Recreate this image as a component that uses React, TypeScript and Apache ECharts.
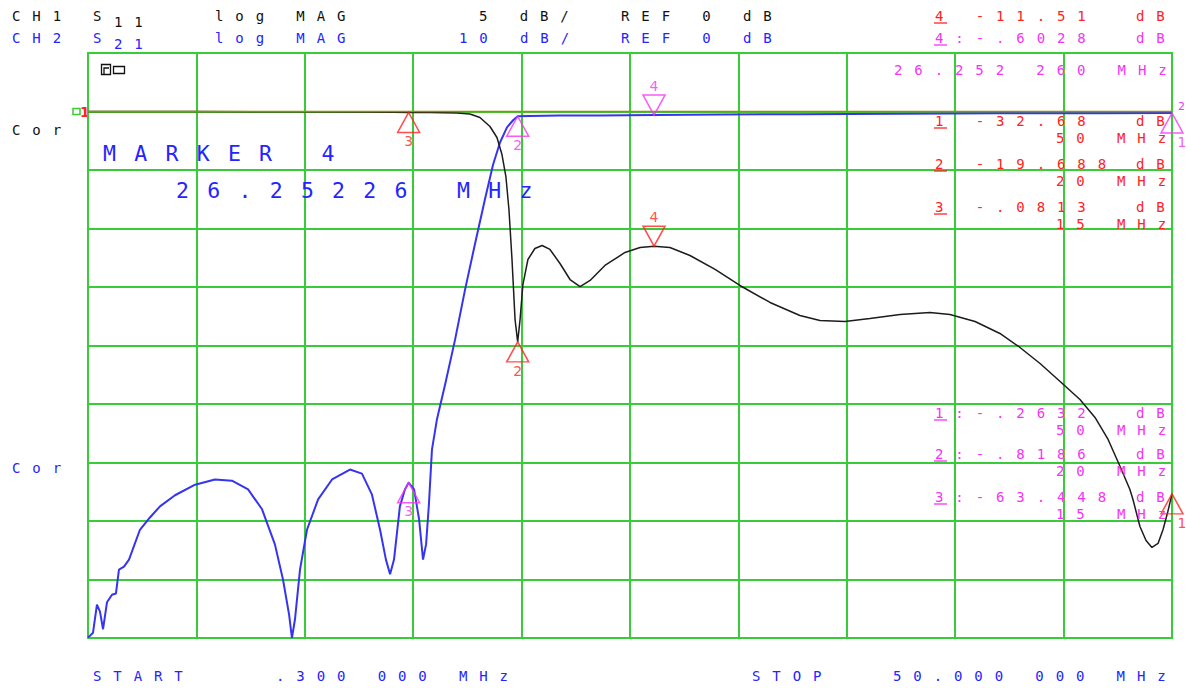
import React, { useEffect, useRef } from "react";
import * as echarts from "echarts";

// ---------- instrument settings ----------
const START_MHZ = 0.3;
const STOP_MHZ = 50;
const REF_DB = 0;
const S11_PER_DIV = 5;
const S21_PER_DIV = 10;

// ---------- trace data ----------
const s11Freq = [
  0.3, 5.0, 10.0, 13.0, 14.3, 15.0, 16.0, 17.22, 17.81, 18.27, 18.73, 19.05, 19.28, 19.46, 19.6, 19.74,
  19.88, 20.0, 20.11, 20.24, 20.47, 20.79, 21.12, 21.48, 21.94, 22.4, 22.86, 23.32, 24.0, 24.92, 25.61,
  26.25, 26.98, 27.9, 29.05, 30.19, 31.57, 32.94, 33.86, 35.0, 36.15, 37.53, 38.9, 39.82, 40.97, 42.11,
  43.03, 43.95, 44.87, 45.78, 46.47, 47.07, 47.62, 48.07, 48.21, 48.53, 48.81, 49.08, 49.36, 49.59,
  49.81, 50.0,
];
const s11Db = [
  0.0, -0.01, -0.02, -0.04, -0.07, -0.0813, -0.09, -0.12, -0.21, -0.51, -1.28, -2.22, -3.68, -5.56,
  -8.38, -12.65, -17.78, -19.688, -17.78, -14.79, -12.65, -11.71, -11.45, -11.79, -12.99, -14.36,
  -14.96, -14.44, -13.16, -12.05, -11.62, -11.51, -11.62, -12.31, -13.5, -14.87, -16.32, -17.44,
  -17.86, -17.95, -17.69, -17.35, -17.18, -17.35, -17.95, -18.97, -20.17, -21.54, -23.08, -24.62,
  -26.15, -28.03, -30.34, -32.31, -33.16, -35.47, -36.67, -37.26, -36.92, -35.73, -34.19, -32.68,
];
const s21Freq = [
  0.3, 0.39, 0.53, 0.71, 0.85, 0.99, 1.17, 1.4, 1.58, 1.72, 1.95, 2.18, 2.68, 3.14, 3.6, 4.29, 5.21,
  6.12, 6.9, 7.64, 8.28, 8.87, 9.24, 9.52, 9.65, 9.79, 10.02, 10.34, 10.85, 11.49, 12.31, 12.86, 13.32,
  13.69, 13.96, 14.15, 14.33, 14.6, 14.83, 15.0, 15.25, 15.48, 15.66, 15.8, 15.93, 16.07, 16.3, 16.67,
  17.13, 17.59, 18.04, 18.5, 18.87, 19.19, 19.51, 19.79, 20.0, 20.56, 21.9, 23.8, 26.25, 29.3, 32.9,
  37.5, 42.1, 46.7, 50.0,
];
const s21Db = [
  -89.9, -89.6, -89.1, -84.3, -85.5, -88.5, -83.9, -82.6, -82.4, -78.3, -77.8, -76.6, -71.5, -69.4,
  -67.5, -65.6, -63.8, -62.9, -63.1, -64.6, -68.0, -74.0, -80.0, -86.0, -90.0, -86.8, -78.3, -71.5,
  -66.3, -62.9, -61.2, -61.9, -65.5, -71.5, -76.6, -79.1, -76.6, -67.5, -64.6, -63.448, -64.6, -69.7,
  -76.6, -74.0, -67.2, -57.8, -52.6, -46.7, -39.0, -30.4, -22.7, -15.0, -9.1, -5.3, -2.7, -1.5,
  -0.8186, -0.75, -0.7, -0.68, -0.6028, -0.52, -0.45, -0.37, -0.31, -0.28, -0.2632,
];

// ---------- markers ----------
const markerIds = ["1", "2", "3", "4"];
const markerFreq = [50, 20, 15, 26.25226];
const s11MarkerDb = [-32.68, -19.688, -0.0813, -11.51];
const s21MarkerDb = [-0.2632, -0.8186, -63.448, -0.6028];
const markerFreqLabels = ["50 MHz", "20 MHz", "15 MHz"];

// ---------- annotation texts ----------
const headerCh1 = ["CH1", "S", "11", "log MAG", "5 dB/", "REF 0 dB"];
const headerCh2 = ["CH2", "S", "21", "log MAG", "10 dB/", "REF 0 dB"];
const activeMarkerFreqText = "26.252 260 MHz";
const markerTitleText = "MARKER 4";
const markerBigFreqText = "26.25226 MHz";
const corText = "Cor";
const startTexts = ["START", ".300 000 MHz"];
const stopTexts = ["STOP", "50.000 000 MHz"];
const dbUnit = "dB";

const MONO = "DejaVu Sans Mono";
const BLACK = "#111111";
const BLUE = "#2424ff";
const RED = "#ff2222";
const MAG = "#f533f5";
const GREEN = "#38cc38";
const SMALL = 14;
const BIG = 21.5;

const fmtDb = (v: number) => String(v).replace("-0.", "-.");

function txt(text: string, x: number, y: number, fill: string, size = SMALL) {
  return {
    type: "text",
    x,
    y,
    silent: true,
    z: 10,
    style: {
      text,
      fill,
      fontSize: size,
      fontFamily: MONO,
      align: "left",
      verticalAlign: "middle",
      textAlign: "left",
      textVerticalAlign: "middle",
    },
  };
}

function uline(x: number, y: number, stroke: string) {
  return {
    type: "line",
    silent: true,
    z: 10,
    shape: { x1: x - 1, y1: y, x2: x + 12, y2: y },
    style: { stroke, lineWidth: 1.3 },
  };
}

function buildGraphic() {
  const g: any[] = [];
  // header line 1 (CH1)
  g.push(txt(headerCh1[0], 12, 16, BLACK));
  g.push(txt(headerCh1[1], 93, 16, BLACK));
  g.push(txt(headerCh1[2], 114, 22, BLACK));
  g.push(txt(headerCh1[3], 215, 16, BLACK));
  g.push(txt(headerCh1[4], 479, 16, BLACK));
  g.push(txt(headerCh1[5], 621, 16, BLACK));
  // header line 2 (CH2)
  g.push(txt(headerCh2[0], 12, 38, BLUE));
  g.push(txt(headerCh2[1], 93, 38, BLUE));
  g.push(txt(headerCh2[2], 114, 44, BLUE));
  g.push(txt(headerCh2[3], 215, 38, BLUE));
  g.push(txt(headerCh2[4], 459, 38, BLUE));
  g.push(txt(headerCh2[5], 621, 38, BLUE));
  // active marker read-outs
  g.push(txt(markerIds[3] + " " + fmtDb(s11MarkerDb[3]), 935, 16, RED));
  g.push(txt(dbUnit, 1136, 16, RED));
  g.push(uline(935, 23, RED));
  g.push(txt(markerIds[3] + ":" + fmtDb(s21MarkerDb[3]), 935, 38, MAG));
  g.push(txt(dbUnit, 1136, 38, MAG));
  g.push(uline(935, 45, MAG));
  g.push(txt(activeMarkerFreqText, 894, 70, MAG));
  // Cor labels
  g.push(txt(corText, 12, 130, BLACK));
  g.push(txt(corText, 12, 468, BLUE));
  // big marker text
  g.push(txt(markerTitleText, 103, 153, BLUE, BIG));
  g.push(txt(markerBigFreqText, 176, 190, BLUE, BIG));
  // marker lists
  const redRows = [121, 164, 207];
  const magRows = [413, 454, 497];
  for (let i = 0; i < 3; i++) {
    g.push(txt(markerIds[i] + " " + fmtDb(s11MarkerDb[i]), 935, redRows[i], RED));
    g.push(txt(dbUnit, 1136, redRows[i], RED));
    g.push(txt(markerFreqLabels[i], 1056, redRows[i] + 16.5, RED));
    g.push(uline(935, redRows[i] + 7, RED));
    g.push(txt(markerIds[i] + ":" + fmtDb(s21MarkerDb[i]), 935, magRows[i], MAG));
    g.push(txt(dbUnit, 1136, magRows[i], MAG));
    g.push(txt(markerFreqLabels[i], 1056, magRows[i] + 16.5, MAG));
    g.push(uline(935, magRows[i] + 7, MAG));
  }
  // bottom line
  g.push(txt(startTexts[0], 93, 676, BLUE));
  g.push(txt(startTexts[1], 276, 676, BLUE));
  g.push(txt(stopTexts[0], 752, 676, BLUE));
  g.push(txt(stopTexts[1], 893, 676, BLUE));
  // small display icon
  g.push({
    type: "rect",
    silent: true,
    shape: { x: 101.5, y: 64.5, width: 9, height: 10 },
    style: { fill: "none", stroke: BLACK, lineWidth: 1.3 },
  });
  g.push({
    type: "rect",
    silent: true,
    shape: { x: 113.5, y: 66.5, width: 11, height: 7 },
    style: { fill: "none", stroke: BLACK, lineWidth: 1.3 },
  });
  g.push({
    type: "polyline",
    silent: true,
    shape: { points: [[104, 74], [104, 68], [109, 68]] },
    style: { fill: "none", stroke: BLACK, lineWidth: 1.3 },
  });
  // reference position indicators
  g.push({
    type: "rect",
    silent: true,
    shape: { x: 73, y: 108.5, width: 7, height: 6 },
    style: { fill: "none", stroke: GREEN, lineWidth: 1.5 },
  });
  g.push({
    type: "text",
    x: 80,
    y: 112,
    silent: true,
    style: {
      text: "1",
      fill: RED,
      fontSize: 14,
      fontFamily: "DejaVu Sans",
      fontWeight: "bold",
      verticalAlign: "middle",
      textVerticalAlign: "middle",
    },
  });
  g.push({
    type: "text",
    x: 1178,
    y: 106,
    silent: true,
    style: {
      text: "2",
      fill: MAG,
      fontSize: 11,
      fontFamily: "DejaVu Sans",
      verticalAlign: "middle",
      textVerticalAlign: "middle",
    },
  });
  return g;
}

function markerData(dbs: number[]) {
  return markerIds.map((id, i) => {
    const down = id === "4";
    return {
      name: id,
      value: [markerFreq[i], dbs[i]],
      symbol: down ? "path://M0,0L22,0L11,20Z" : "triangle",
      symbolOffset: down ? [0, -10] : [0, 10],
      label: {
        position: down ? "top" : "bottom",
        offset: id === "1" ? [10, 0] : [0, 0],
      },
    };
  });
}

function markerSeries(dbs: number[], yAxisIndex: number, color: string) {
  return {
    type: "scatter",
    xAxisIndex: 0,
    yAxisIndex,
    clip: false,
    silent: true,
    z: 6,
    symbolSize: [22, 20],
    itemStyle: { color: "rgba(0,0,0,0)", borderColor: color, borderWidth: 1.5 },
    label: {
      show: true,
      formatter: "{b}",
      color,
      fontFamily: "DejaVu Sans",
      fontSize: 14,
      distance: 1,
    },
    data: markerData(dbs),
  };
}

export default function App() {
  const ref = useRef<HTMLDivElement>(null);

  useEffect(() => {
    if (!ref.current) return;
    const chart = echarts.init(ref.current, undefined, { renderer: "svg" });
    const hidden = {
      axisLine: { show: false },
      axisTick: { show: false },
      axisLabel: { show: false },
      splitLine: { show: false },
    };
    const gridLine = { show: true, lineStyle: { color: GREEN, width: 2 } };
    chart.setOption({
      animation: false,
      backgroundColor: "#ffffff",
      grid: {
        left: 88,
        top: 53,
        width: 1084,
        height: 585,
        show: true,
        borderColor: GREEN,
        borderWidth: 2,
        backgroundColor: "transparent",
      },
      xAxis: [
        { type: "value", min: START_MHZ, max: STOP_MHZ, ...hidden },
        {
          type: "value",
          min: 0,
          max: 10,
          interval: 1,
          axisLine: { show: false },
          axisTick: { show: false },
          axisLabel: { show: false },
          splitLine: gridLine,
        },
      ],
      yAxis: [
        {
          type: "value",
          min: REF_DB - 9 * S11_PER_DIV,
          max: REF_DB + S11_PER_DIV,
          interval: S11_PER_DIV,
          axisLine: { show: false },
          axisTick: { show: false },
          axisLabel: { show: false },
          splitLine: gridLine,
        },
        {
          type: "value",
          min: REF_DB - 9 * S21_PER_DIV,
          max: REF_DB + S21_PER_DIV,
          interval: S21_PER_DIV,
          ...hidden,
        },
      ],
      series: [
        {
          name: "S21",
          type: "line",
          xAxisIndex: 0,
          yAxisIndex: 1,
          showSymbol: false,
          silent: true,
          z: 2,
          lineStyle: { color: "#3535f0", width: 2 },
          data: s21Freq.map((f, i) => [f, s21Db[i]]),
        },
        {
          name: "S11",
          type: "line",
          xAxisIndex: 0,
          yAxisIndex: 0,
          showSymbol: false,
          silent: true,
          z: 3,
          lineStyle: { color: "#1c1c1c", width: 1.5 },
          data: s11Freq.map((f, i) => [f, s11Db[i]]),
        },
        {
          name: "REF",
          type: "line",
          xAxisIndex: 0,
          yAxisIndex: 0,
          showSymbol: false,
          silent: true,
          z: 4,
          lineStyle: { color: "#9a8c00", width: 1.4 },
          data: [
            [START_MHZ, REF_DB],
            [STOP_MHZ, REF_DB],
          ],
        },
        markerSeries(s11MarkerDb, 0, RED),
        markerSeries(s21MarkerDb, 1, MAG),
      ],
      graphic: buildGraphic(),
    });
    return () => chart.dispose();
  }, []);

  return (
    <>
      <style>{'text[style*="DejaVu Sans Mono"]{letter-spacing:0.85em;}'}</style>
      <div
        ref={ref}
        style={{ position: "fixed", left: 0, top: 0, width: 1186, height: 688, background: "#fff" }}
      />
    </>
  );
}
